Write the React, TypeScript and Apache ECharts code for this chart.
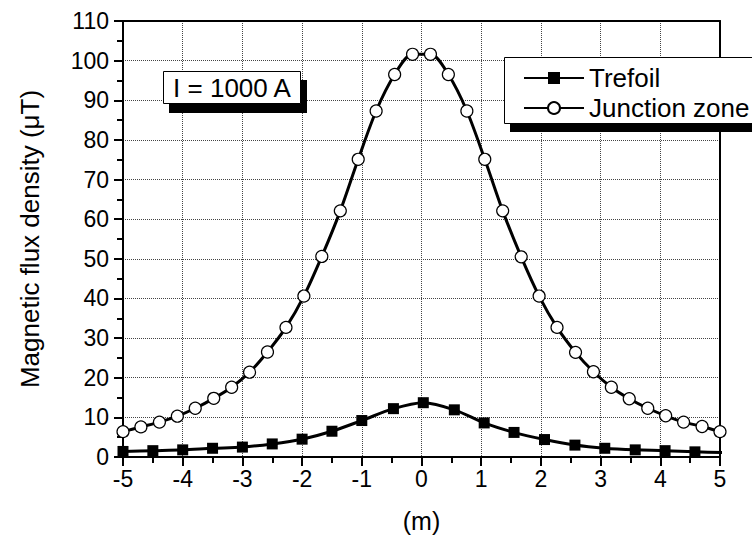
import React, { useEffect, useRef } from "react";
import * as echarts from "echarts";

const trefoilX = [-5, -4.5, -4, -3.5, -3, -2.5, -2, -1.5, -1, -0.47, 0.03, 0.55, 1.05, 1.55, 2.06, 2.57, 3.07, 3.58, 4.08, 4.58, 5.08];
const trefoilY = [1.4, 1.6, 1.8, 2.2, 2.5, 3.3, 4.5, 6.5, 9.2, 12.2, 13.7, 11.9, 8.6, 6.2, 4.4, 3.0, 2.2, 1.8, 1.6, 1.3, 1.1];

const junctionX = [-5, -4.7, -4.39, -4.09, -3.79, -3.48, -3.18, -2.88, -2.58, -2.27, -1.97, -1.67, -1.36, -1.06, -0.76, -0.45, -0.15,
  0.15, 0.45, 0.76, 1.06, 1.36, 1.67, 1.97, 2.27, 2.58, 2.88, 3.18, 3.48, 3.79, 4.09, 4.39, 4.7, 5];
const junctionY = [6.4, 7.6, 8.8, 10.3, 12.3, 14.8, 17.6, 21.4, 26.5, 32.7, 40.6, 50.6, 62.1, 75.1, 87.3, 96.5, 101.6,
  101.6, 96.5, 87.3, 75.1, 62.1, 50.5, 40.6, 32.7, 26.4, 21.5, 17.6, 14.7, 12.3, 10.4, 8.8, 7.7, 6.4];

const seriesNames = ["Trefoil", "Junction zone"];
const xTitle = "(m)";
const yTitle = "Magnetic flux density (\u03bcT)";
const annotation = "I = 1000 A";

const FONT = "'Liberation Sans', Arial, sans-serif";

export default function App() {
  const ref = useRef<HTMLDivElement>(null);
  useEffect(() => {
    if (!ref.current) return;
    const chart = echarts.init(ref.current, null, { renderer: "svg" });
    const frameAxis = {
      axisLine: { show: true, onZero: false, lineStyle: { color: "#000", width: 2 } },
      axisTick: { show: false },
      axisLabel: { show: false },
      splitLine: { show: false },
    };
    const option = {
      animation: false,
      backgroundColor: "#fff",
      textStyle: { fontFamily: FONT, color: "#000" },
      grid: { left: 123, right: 32, top: 21, bottom: 85 },
      xAxis: [
        {
          type: "value", min: -5, max: 5, interval: 1,
          name: xTitle, nameLocation: "middle", nameGap: 51,
          nameTextStyle: { fontSize: 25, color: "#000", fontFamily: FONT },
          axisLine: { show: true, onZero: false, lineStyle: { color: "#000", width: 2 } },
          axisTick: { show: true, length: 9, lineStyle: { color: "#000", width: 2 } },
          minorTick: { show: true, splitNumber: 2, length: 6, lineStyle: { color: "#000", width: 2 } },
          axisLabel: { fontSize: 23, color: "#000", margin: 10, fontFamily: FONT },
          splitLine: { show: true, lineStyle: { color: "#444", width: 1, type: "dotted" } },
        },
        { type: "value", min: -5, max: 5, position: "top", ...frameAxis },
      ],
      yAxis: [
        {
          type: "value", min: 0, max: 110, interval: 10,
          name: yTitle, nameLocation: "middle", nameGap: 80, nameRotate: 90,
          nameTextStyle: { fontSize: 26, color: "#000", fontFamily: FONT },
          axisLine: { show: true, onZero: false, lineStyle: { color: "#000", width: 2 } },
          axisTick: { show: true, length: 9, lineStyle: { color: "#000", width: 2 } },
          minorTick: { show: true, splitNumber: 2, length: 6, lineStyle: { color: "#000", width: 2 } },
          axisLabel: { fontSize: 23, color: "#000", margin: 14, fontFamily: FONT },
          splitLine: { show: true, lineStyle: { color: "#444", width: 1, type: "dotted" } },
        },
        { type: "value", min: 0, max: 110, position: "right", ...frameAxis },
      ],
      legend: {
        orient: "vertical", left: 518, top: 60, z: 50,
        itemWidth: 60, itemHeight: 15, itemGap: 4,
        textStyle: { fontSize: 26, color: "#000", fontFamily: FONT, lineHeight: 26 },
        data: seriesNames,
      },
      graphic: [
        { type: "rect", z: 40, shape: { x: 510, y: 64, width: 260, height: 68 }, style: { fill: "#000" } },
        { type: "rect", z: 41, shape: { x: 504.5, y: 57.5, width: 260, height: 66 }, style: { fill: "#fff", stroke: "#000", lineWidth: 1 } },
        { type: "rect", z: 40, shape: { x: 169, y: 80, width: 138, height: 33 }, style: { fill: "#000" } },
        { type: "rect", z: 41, shape: { x: 163.5, y: 71.5, width: 137, height: 32 }, style: { fill: "#fff", stroke: "#000", lineWidth: 1 } },
        { type: "text", z: 42, x: 232, y: 88, style: { text: annotation, fontSize: 26, fill: "#000", fontFamily: FONT, align: "center", verticalAlign: "middle" } },
      ],
      series: [
        {
          name: seriesNames[0], type: "line", smooth: 0.3, clip: true,
          symbol: "rect", symbolSize: 11,
          lineStyle: { color: "#000", width: 3 },
          itemStyle: { color: "#000", borderColor: "#000", borderWidth: 0 },
          data: trefoilX.map((x, i) => [x, trefoilY[i]]),
          z: 3,
        },
        {
          name: seriesNames[1], type: "line", smooth: 0.3, clip: true,
          symbol: "circle", symbolSize: 12,
          lineStyle: { color: "#000", width: 3 },
          itemStyle: { color: "#fff", borderColor: "#000", borderWidth: 1.2 },
          data: junctionX.map((x, i) => [x, junctionY[i]]),
          z: 4,
        },
      ],
    };
    chart.setOption(option as any);
    return () => chart.dispose();
  }, []);
  return <div ref={ref} style={{ position: "fixed", left: 0, top: 0, width: 752, height: 542 }} />;
}
